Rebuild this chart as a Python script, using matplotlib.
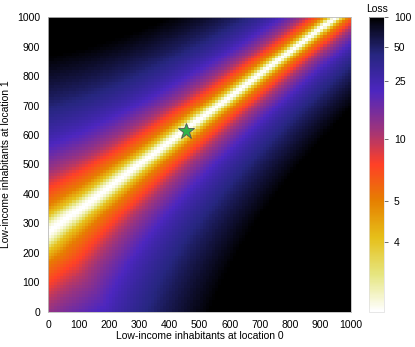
import numpy as np
import matplotlib
matplotlib.use('Agg')
import matplotlib.pyplot as plt
from matplotlib import colors

plt.rcParams['font.family'] = ['Liberation Sans', 'DejaVu Sans']

# candidate values, 10 inhabitants per cell
loc0_edges = np.linspace(0, 1000, 101)
loc1_edges = np.linspace(0, 1000, 101)

# loss valley: loc1 = intercept + slope * loc0
valley_intercept = 268.0
valley_slope = 0.77
loss_floor = 3.4
loss_ceiling = 100.0
loss_power = 1.8
valley_halfwidth = 1000.0   # offset where the loss hits the ceiling (start of valley)
valley_narrowing = 560.0    # distance along the valley over which it halves

best_fit = (455, 612)

# colour bar, tick values and their position along the bar (0 = bottom, 1 = top)
cbar_ticks = [4, 5, 10, 25, 50, 100]
cbar_levels = [3.4, 4, 5, 10, 25, 50, 100]
cbar_pos = [0.0, 0.236, 0.376, 0.585, 0.785, 0.900, 1.0]


def loss_surface():
    xc = (loc0_edges[:-1] + loc0_edges[1:]) / 2
    yc = (loc1_edges[:-1] + loc1_edges[1:]) / 2
    X, Y = np.meshgrid(xc, yc)
    offset = Y - (valley_intercept + valley_slope * X)
    along = (X + valley_slope * (Y - valley_intercept)) / np.hypot(1, valley_slope)
    scale = 1 + np.clip(along, 0, None) / valley_narrowing
    u = np.abs(offset) * scale / valley_halfwidth
    loss = loss_floor + (loss_ceiling - loss_floor) * u ** loss_power
    return np.clip(loss, loss_floor, loss_ceiling)


def make_norm():
    lv = np.log(cbar_levels)

    def forward(v):
        return np.interp(np.log(np.clip(v, 1e-9, None)), lv, cbar_pos)

    def inverse(p):
        return np.exp(np.interp(p, cbar_pos, lv))

    return colors.FuncNorm((forward, inverse), vmin=cbar_levels[0], vmax=cbar_levels[-1])


def main():
    loss = loss_surface()
    norm = make_norm()

    fig = plt.figure(figsize=(4.15, 3.47), dpi=100)
    ax = fig.add_axes([0.1164, 0.1023, 0.7287, 0.8479])
    cax = fig.add_axes([0.890, 0.1023, 0.0361, 0.8479])

    mesh = ax.pcolormesh(loc0_edges, loc1_edges, loss, cmap='CMRmap_r', norm=norm,
                         antialiased=True, linewidth=0)
    ax.plot(*best_fit, marker='*', markersize=12, color='#2fb34a',
            markeredgecolor='#555555', markeredgewidth=0.6)

    ax.set_xlim(0, 1000)
    ax.set_ylim(0, 1000)
    ax.set_xticks(np.arange(0, 1001, 100))
    ax.set_yticks(np.arange(0, 1001, 100))
    ax.tick_params(length=0, pad=6, labelsize=7.5)
    ax.set_xlabel('Low-income inhabitants at location 0', fontsize=7.5, labelpad=1)
    ax.set_ylabel('Low-income inhabitants at location 1', fontsize=7.5, labelpad=4)
    for sp in ax.spines.values():
        sp.set_color('#bbbbbb')
        sp.set_linewidth(0.6)

    cb = fig.colorbar(mesh, cax=cax)
    cb.set_ticks(cbar_ticks)
    cb.set_ticklabels([str(t) for t in cbar_ticks])
    cb.ax.minorticks_off()
    cb.ax.tick_params(length=3, width=0.6, color='#555555', pad=4, labelsize=7.5)
    cb.outline.set_edgecolor('#dddddd')
    cb.outline.set_linewidth(0.5)
    cax.set_title('Loss', fontsize=7.5, pad=4)

    fig.savefig('out.png', dpi=100)


if __name__ == '__main__':
    main()
